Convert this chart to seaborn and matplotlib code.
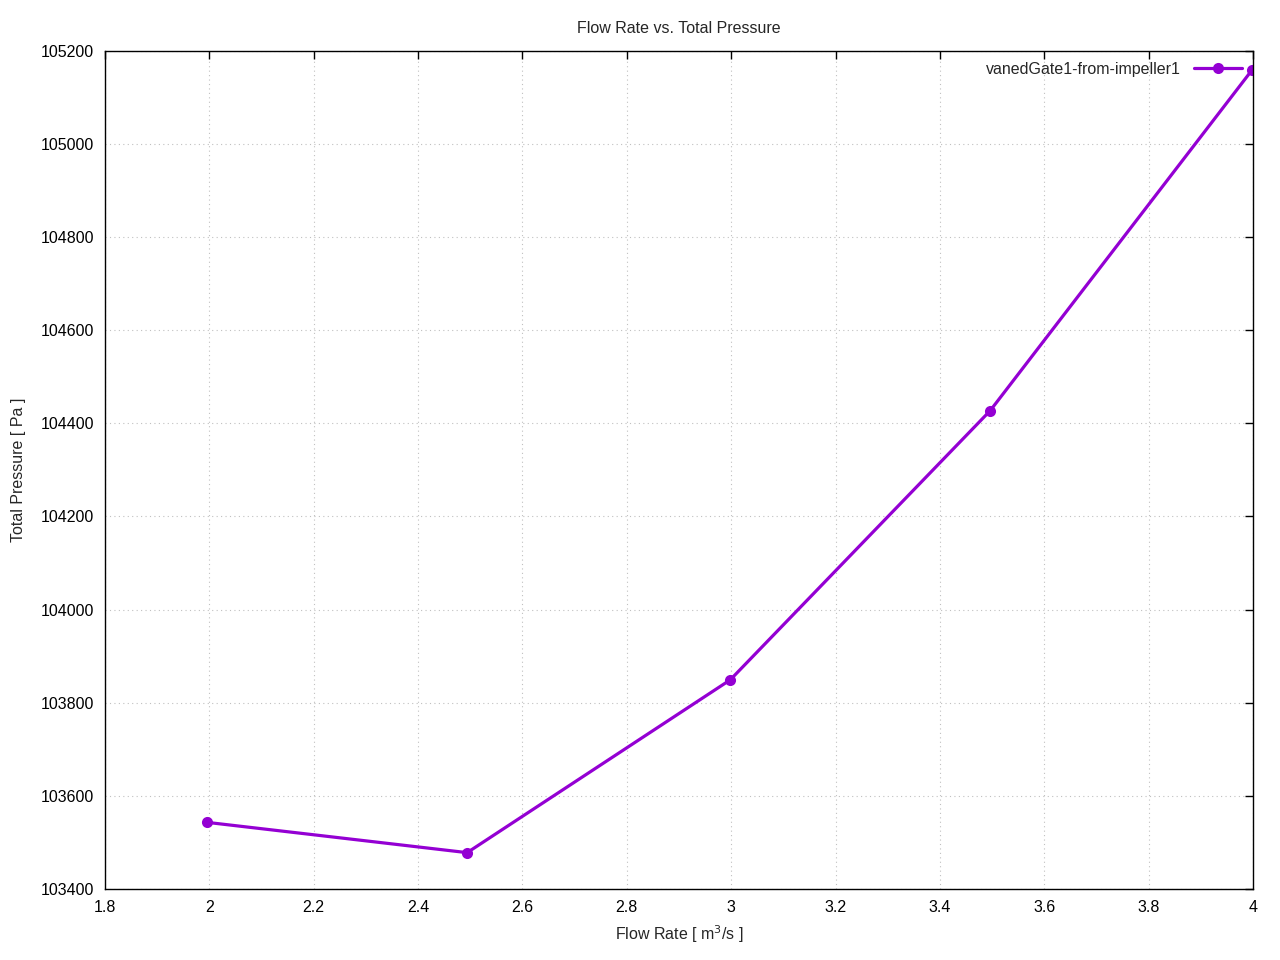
import matplotlib
matplotlib.use("Agg")
import matplotlib.pyplot as plt
import pandas as pd
import seaborn as sns

flow_rate = [1.996, 2.494, 2.998, 3.496, 3.998]
total_pressure = [103543, 103478, 103849, 104427, 105159]
series_name = "vanedGate1-from-impeller1"

x_ticks = [1.8, 2, 2.2, 2.4, 2.6, 2.8, 3, 3.2, 3.4, 3.6, 3.8, 4]
x_labels = ["1.8", "2", "2.2", "2.4", "2.6", "2.8", "3", "3.2", "3.4", "3.6", "3.8", "4"]
y_ticks = [103400, 103600, 103800, 104000, 104200, 104400, 104600, 104800, 105000, 105200]

df = pd.DataFrame({"flow": flow_rate, "pressure": total_pressure, "series": series_name})

sns.set_style("white")
plt.rcParams["font.family"] = ["Liberation Sans", "DejaVu Sans"]

fig = plt.figure(figsize=(12.8, 9.6), dpi=100)
ax = fig.add_axes([0.082, 0.074, 0.897, 0.873])

sns.lineplot(data=df, x="flow", y="pressure", hue="series", palette=["#9400d3"],
             marker="o", markersize=8, markeredgewidth=0, linewidth=2.3, ax=ax)

ax.set_xlim(1.8, 4)
ax.set_ylim(103400, 105200)
ax.set_xticks(x_ticks)
ax.set_xticklabels(x_labels)
ax.set_yticks(y_ticks)
ax.set_yticklabels([str(v) for v in y_ticks])
ax.tick_params(direction="in", length=6, width=1, top=True, right=True,
               labelsize=11.5, pad=8, colors="black")
ax.grid(True, linestyle=(0, (1, 3)), color="#c0c0c0", linewidth=0.8)
for s in ax.spines.values():
    s.set_color("black")
    s.set_linewidth(1)

ax.set_title("Flow Rate vs. Total Pressure", fontsize=11.5, pad=13)
ax.set_xlabel("Flow Rate [ m$^3$/s ]", fontsize=11.5, labelpad=6)
ax.set_ylabel("Total Pressure [ Pa ]", fontsize=11.5, labelpad=10)

leg = ax.legend(loc="upper right", frameon=False, fontsize=11.5, markerfirst=False,
                handlelength=3, borderaxespad=0.3)

fig.savefig("out.png", dpi=100)
